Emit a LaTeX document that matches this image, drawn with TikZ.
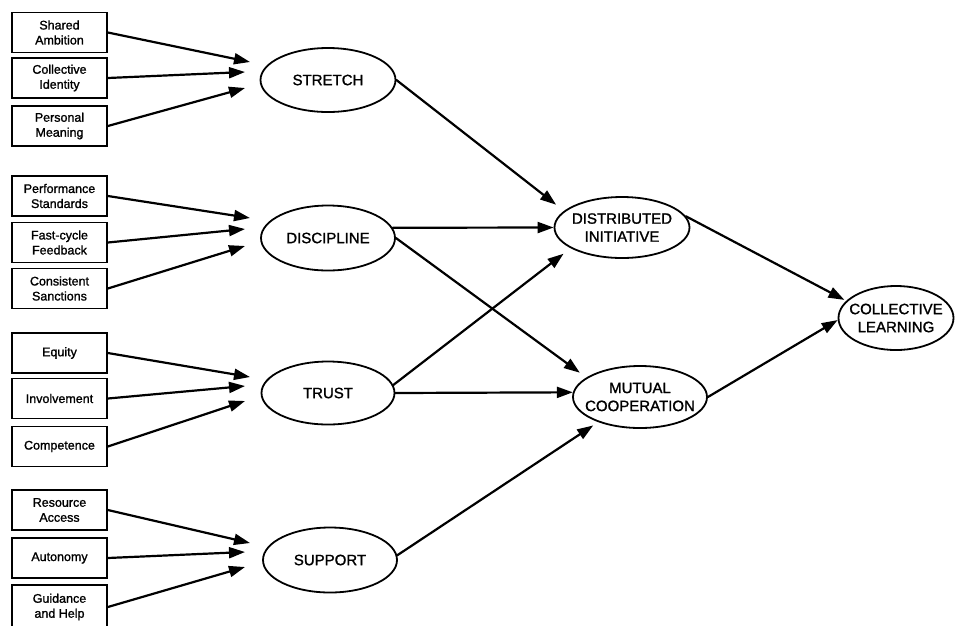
\documentclass[tikz,border=0pt]{standalone}
\usepackage{fontspec}
\setmainfont{Liberation Sans}
\newfontfamily\printface{Liberation Sans}[FakeBold=1.3]
\usetikzlibrary{shapes.geometric,arrows.meta}

\begin{document}
\begin{tikzpicture}[x=1pt,y=-1pt,
  factor/.style={draw,line width=1.7pt,minimum width=95pt,minimum height=40pt,
    inner sep=0pt,align=center,font=\printface\fontsize{12.5}{15}\selectfont},
  construct/.style={draw,ellipse,line width=1.8pt,inner sep=0pt,inner xsep=-25pt,
    minimum width=134pt,minimum height=64pt,align=center,
    font=\printface\fontsize{15}{18}\selectfont},
  link/.style={line width=2.2pt,line cap=round,-{Triangle[length=16pt,width=11pt]}},
]
\useasboundingbox (0,0) rectangle (961,625);
\clip (0,0) rectangle (961,625);

% contributing factors
\node[factor] (f1)  at (59.5,32.5)  {Shared\\Ambition};
\node[factor] (f2)  at (59.5,78)    {Collective\\Identity};
\node[factor] (f3)  at (59.5,126)   {Personal\\Meaning};
\node[factor] (f4)  at (59.5,196)   {Performance\\Standards};
\node[factor] (f5)  at (59.5,242.5) {Fast-cycle\\Feedback};
\node[factor] (f6)  at (59.5,288.5) {Consistent\\Sanctions};
\node[factor] (f7)  at (59.5,353)   {Equity};
\node[factor] (f8)  at (59.5,398.5) {Involvement};
\node[factor] (f9)  at (59.5,446.5) {Competence};
\node[factor] (f10) at (59.5,510)   {Resource\\Access};
\node[factor] (f11) at (59.5,558)   {Autonomy};
\node[factor,minimum height=44pt] (f12) at (59.5,607) {Guidance\\and Help};

% context dimensions
\node[construct,minimum width=135pt] (stretch) at (328,80)  {STRETCH};
\node[construct,minimum height=65pt] (disc)    at (328,238) {DISCIPLINE};
\node[construct,minimum width=133pt,minimum height=63pt] (trust) at (328,393) {TRUST};
\node[construct,minimum height=65pt] (support) at (330,560) {SUPPORT};

% outcomes
\node[construct,minimum width=135pt,minimum height=61pt] (di) at (622,227.5) {DISTRIBUTED\\INITIATIVE};
\node[construct,minimum height=62pt] (mc) at (640,397) {MUTUAL\\COOPERATION};
\node[construct,minimum width=115pt] (cl) at (896,318) {COLLECTIVE\\LEARNING};

% arrow tips in front of the dimensions
\coordinate (s1) at (250,62);  \coordinate (s2) at (245,72);  \coordinate (s3) at (245,88);
\coordinate (d1) at (250,218); \coordinate (d2) at (245,229); \coordinate (d3) at (245,246);
\coordinate (t1) at (250,377); \coordinate (t2) at (245,386); \coordinate (t3) at (245,401);
\coordinate (p1) at (250,543); \coordinate (p2) at (245,552); \coordinate (p3) at (245,567);

\draw[link] (f1.east)  -- (s1);
\draw[link] (f2.east)  -- (s2);
\draw[link] (f3.east)  -- (s3);
\draw[link] (f4.east)  -- (d1);
\draw[link] (f5.east)  -- (d2);
\draw[link] (f6.east)  -- (d3);
\draw[link] (f7.east)  -- (t1);
\draw[link] (f8.east)  -- (t2);
\draw[link] (f9.east)  -- (t3);
\draw[link] (f10.east) -- (p1);
\draw[link] (f11.east) -- (p2);
\draw[link] (f12.east) -- (p3);

% dimensions to outcomes
\draw[link,shorten >=10pt] (stretch.east) -- (di.164);
\draw[link] (disc.9) -- (di.west);
\draw[link,shorten >=8pt] (disc.east) -- (mc.160);
\draw[link,shorten >=9pt] (trust.7) -- (di.202);
\draw[link] (trust.east) -- (mc.176);
\draw[link,shorten >=6pt] (support.4) -- (mc.211);

% outcomes to collective learning
\draw[link,shorten >=2pt] (di.10) -- (cl.161);
\draw[link] (mc.east) -- (cl.182);
\end{tikzpicture}
\end{document}
